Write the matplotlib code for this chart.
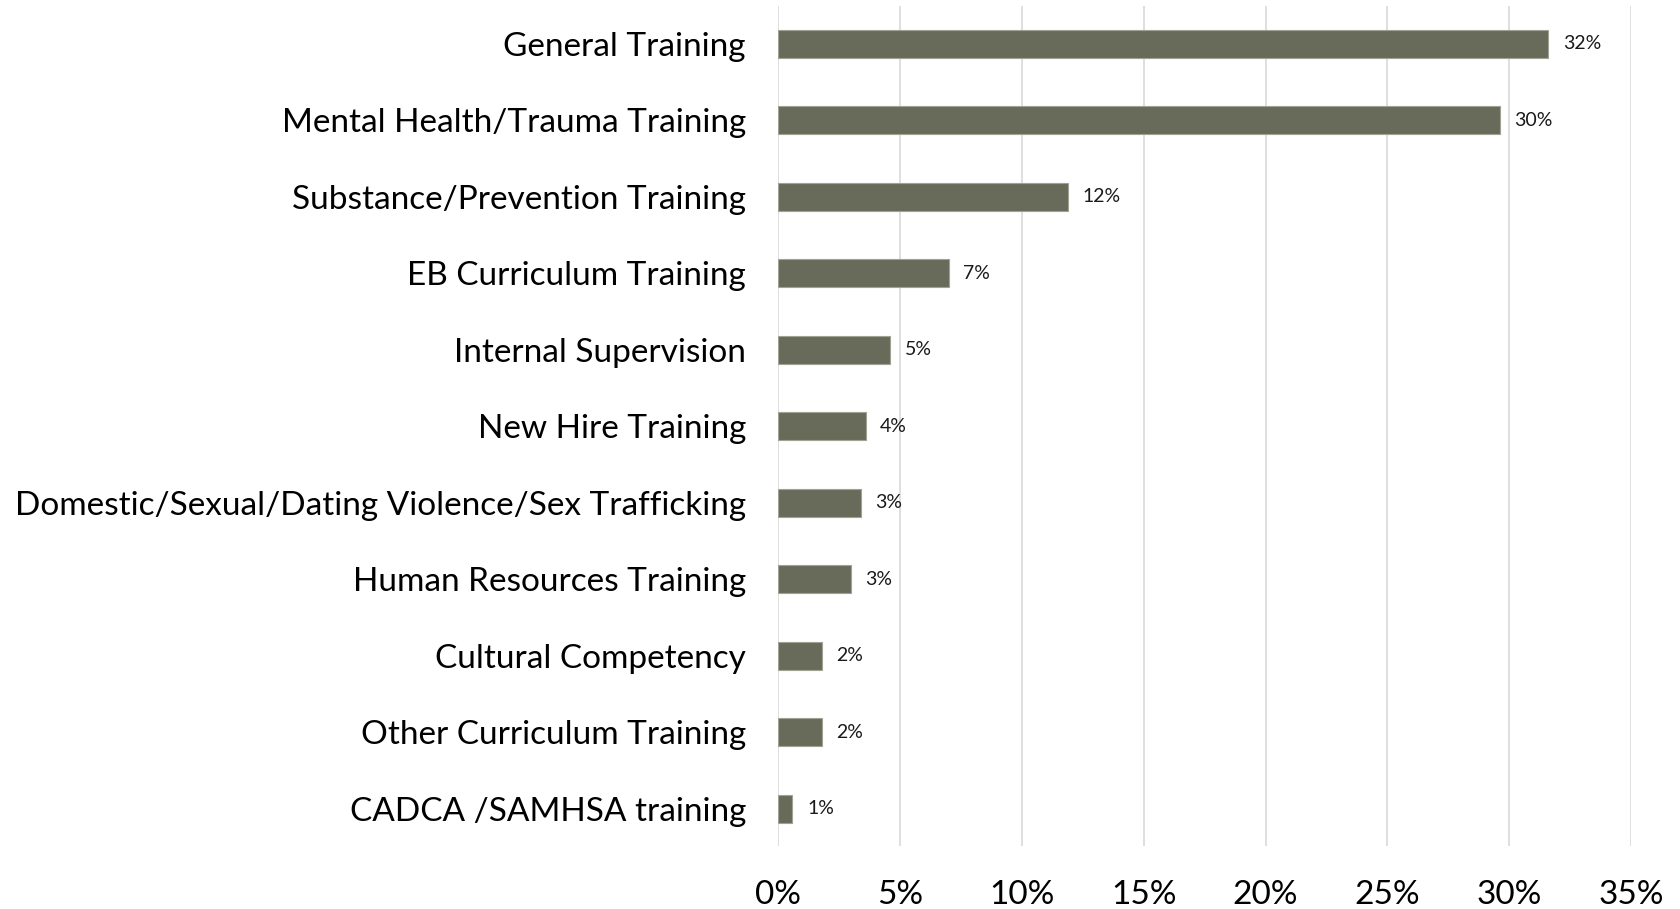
import matplotlib.pyplot as plt
from matplotlib.ticker import MultipleLocator, FuncFormatter

plt.rcParams['font.family'] = ['Lato', 'DejaVu Sans']

categories = [
    "General Training",
    "Mental Health/Trauma Training",
    "Substance/Prevention Training",
    "EB Curriculum Training",
    "Internal Supervision",
    "New Hire Training",
    "Domestic/Sexual/Dating Violence/Sex Trafficking",
    "Human Resources Training",
    "Cultural Competency",
    "Other Curriculum Training",
    "CADCA /SAMHSA training",
]
values = [31.6, 29.6, 11.9, 7.0, 4.6, 3.6, 3.4, 3.0, 1.8, 1.8, 0.6]
labels = ["32%", "30%", "12%", "7%", "5%", "4%", "3%", "3%", "2%", "2%", "1%"]

fig = plt.figure(figsize=(16.8, 9.09), dpi=100)
ax = fig.add_axes([0.463, 0.069, 0.508, 0.924])

y = list(range(len(categories)))
ax.barh(y, values, height=0.37, color="#686B5A", edgecolor="#A0A294",
        linewidth=0.8, zorder=3)
for yi, v, lab in zip(y, values, labels):
    ax.text(v + 0.6, yi, lab, va="center", ha="left", fontsize=14, color="#1a1a1a")

ax.set_xlim(0, 35)
ax.set_ylim(len(categories) - 0.51, -0.49)
ax.set_yticks(y)
ax.set_yticklabels(categories, fontsize=24)
ax.xaxis.set_major_locator(MultipleLocator(5))
ax.xaxis.set_major_formatter(FuncFormatter(lambda v, p: f"{v:.0f}%"))
ax.tick_params(axis="x", labelsize=24, length=0, pad=24)
ax.tick_params(axis="y", length=0, pad=23)
ax.grid(axis="x", color="#D9D9D9", linewidth=1.2, zorder=0)
for s in ax.spines.values():
    s.set_visible(False)

fig.savefig("out.png", dpi=100)
